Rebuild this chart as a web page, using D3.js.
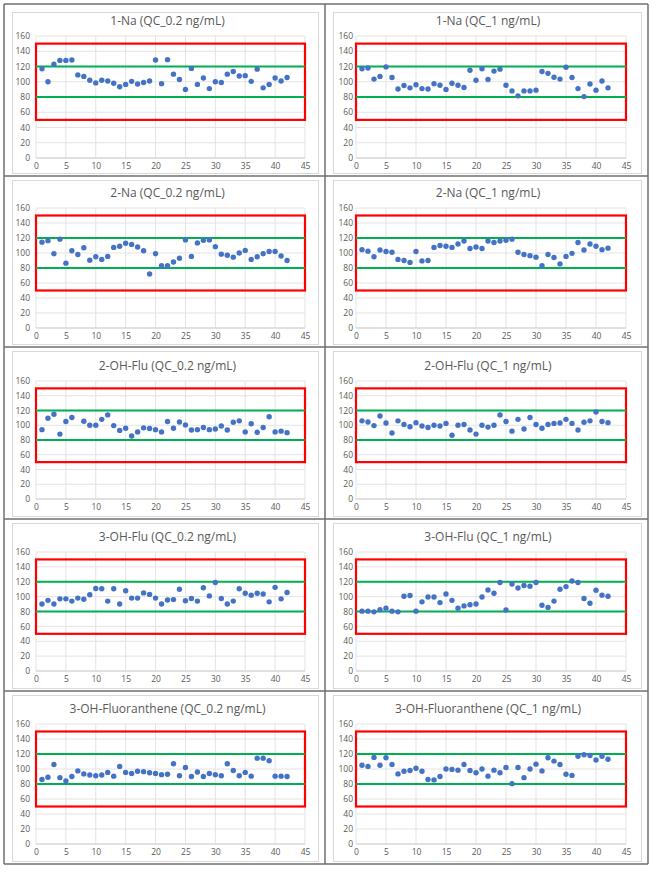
<!DOCTYPE html>
<html>
<head>
<meta charset="utf-8">
<script src="https://cdn.jsdelivr.net/npm/d3@7"></script>
<style>
body { margin: 0; background: #fff; }
text { font-family: "Open Sans", "Liberation Sans", sans-serif; }
</style>
</head>
<body>
<svg id="chart" width="652" height="872"></svg>
<script>
var titles = [
	'1-Na (QC_0.2 ng/mL)', '1-Na (QC_1 ng/mL)',
	'2-Na (QC_0.2 ng/mL)', '2-Na (QC_1 ng/mL)',
	'2-OH-Flu (QC_0.2 ng/mL)', '2-OH-Flu (QC_1 ng/mL)',
	'3-OH-Flu (QC_0.2 ng/mL)', '3-OH-Flu (QC_1 ng/mL)',
	'3-OH-Fluoranthene (QC_0.2 ng/mL)', '3-OH-Fluoranthene (QC_1 ng/mL)'
];

// recovery (%) for runs 1..42, null = no point
var na1_02 = [117, 100, 123, 128, 128, 128.5, 109, 107, 102, 98.5, 102, 101, 98, 93.5, 96.5, 100.5, 97, 99, 101, 128.5,
	97.5, 129, 110, 103, 90, 117.5, 96.5, 105, 91, 100, 99, 110, 113.5, 107.5, 108, 100.5, 116.5, 92, 96.5, 105, 101, 105.5];
var na1_1 = [117, 118, 103.5, 107, 119.5, 105.5, 90.5, 95, 92, 96, 91, 90.5, 97.5, 95.5, 90, 98, 95.5, 92.5, 115, 102,
	117, 103, 114, 116.5, 95.5, 88, 81.5, 88, 88, 89, 113.5, 111, 106, 103.5, 119, 105.5, 91, 80.5, 97, 89, 101, 92];
var na2_02 = [114.5, 116.5, 99, 118.5, 86.5, 103, 98, 107, 90.5, 95, 91.5, 95.5, 107.5, 109, 113, 111.5, 108, 103, 72, 99,
	83, 83, 88, 93, 117.5, 95.5, 113.5, 117, 117.5, 108.5, 98.5, 97, 94.5, 100, 103.5, 91.5, 95, 99, 102, 102, 96, 90];
var na2_1 = [104.5, 102.5, 95, 104, 102, 101, 91.5, 90, 87.5, 102, 89.5, 90, 107.5, 110, 109, 107.5, 112, 116, 106, 108,
	106, 116, 114, 116, 117, 118.5, 101, 98, 96.5, 94.5, 83, 98, 94, 85.5, 95.5, 99.5, 114, 104, 112, 109, 104.5, 106.5];
var oh2_02 = [94, 109.5, 115, 88, 105, 110.5, null, 105.5, 100, 100, 108, 114, 99.5, 93, 96, 85.5, 91, 96.5, 95.5, 94,
	91, 105, 96, 104.5, 100.5, 93.5, 94, 97, 94, 95, 99, 93.5, 104, 106, 91, 102, 90.5, 97, 111.5, 91, 92, 90];
var oh2_1 = [106, 104.5, 99.5, 112.5, 103, 89.5, 106, 101, 98, 103.5, 99, 97, 100, 99, 102.5, 86.5, 100, 101, 93.5, 88,
	100, 97.5, 100, 114, 105, 92, 108, 95, 110.5, 101, 96, 101, 102.5, 103, 108, 102.5, 93.5, 104, 106, 118, 105, 103.5];
var oh3_02 = [90, 95, 90, 97, 97, 94, 98, 96.5, 102.5, 111, 110.5, 94, 110.5, 90, 108, 98, 98, 105, 103, 98,
	90, 95.5, 96, 110, 94.5, 97.5, 94, 112, 101, 119, 97.5, 90, 94, 110.5, 104.5, 102, 104.5, 103.5, 93, 112.5, 97, 105.5];
var oh3_1 = [80.5, 80.5, 79.5, 82.5, 84.5, 80.5, 79.5, 100.5, 101.5, 80.5, 93, 99.5, 99.5, 92, 103.5, 95, 84.5, 87.5, 89, 90,
	99.5, 109, 104.5, 119, 82, 117, 111.5, 115, 114, 119, 88.5, 85.5, 94, 110, 113.5, 121, 119, 97.5, 91, 108.5, 102, 100.5];
var fla3_02 = [86, 89, 106, 88.5, 84, 90, 97.5, 93.5, 92, 91, 92, 95.5, 90.5, 103.5, 95.5, 94, 97, 96.5, 95, 94,
	92.5, 93, 107, 91, 102, 90, 96, 90, 94, 92.5, 91, 107, 98, 91, 95.5, 90.5, 114.5, 114.5, 111, 90.5, 90.5, 90];
var fla3_1 = [105, 103.5, 115.5, 105, 115, 106, 93.5, 97, 98, 101, 97, 86, 85.5, 90, 100, 99.5, 98.5, 106, 98, 95,
	100, 90.5, 98.5, 95, 102, 80.5, 102, 88.5, 100, 106.5, 97.5, 115, 110.5, 106, 93, 91.5, 117, 119, 118, 112, 117, 113];

var series = [na1_02, na1_1, na2_02, na2_1, oh2_02, oh2_1, oh3_02, oh3_1, fla3_02, fla3_1];

var xTicks = [0, 5, 10, 15, 20, 25, 30, 35, 40, 45];
var yTicks = [0, 20, 40, 60, 80, 100, 120, 140, 160];
var acceptLimits = [80, 120];
var rangeLimits = [50, 150];

// layout
var colPlot = [[36, 305], [356, 626]];
var colLabelPad = [6, 3];
var rowPlot = [[36, 158], [208, 328], [381, 499], [552, 671], [724, 844]];
var rowLines = [4, 176, 347, 519, 691, 864];
var colLines = [4, 325, 648];

var svg = d3.select('#chart');

// chart boxes inside each cell
for (var r = 0; r < 5; r++) {
	for (var c = 0; c < 2; c++) {
		svg.append('rect')
			.attr('x', colLines[c] + 8.5)
			.attr('y', rowLines[r] + (r == 0 ? 8.5 : 4.5))
			.attr('width', colLines[c + 1] - colLines[c] - 15)
			.attr('height', rowLines[r + 1] - rowLines[r] - (r == 0 ? 11 : 7))
			.attr('fill', '#fff')
			.attr('stroke', '#d9d9d9')
			.attr('stroke-width', 1);
	}
}

// cell grid
rowLines.forEach(function(y) {
	svg.append('line')
		.attr('x1', colLines[0]).attr('x2', colLines[2])
		.attr('y1', y).attr('y2', y)
		.attr('stroke', '#6f6f6f').attr('stroke-width', 1.5);
});
colLines.forEach(function(x) {
	svg.append('line')
		.attr('x1', x).attr('x2', x)
		.attr('y1', rowLines[0]).attr('y2', rowLines[5])
		.attr('stroke', '#6f6f6f').attr('stroke-width', 1.5);
});

function drawPanel(i) {
	var r = Math.floor(i / 2), c = i % 2;
	var data = series[i];

	var xScale = d3.scaleLinear().domain([0, 45]).range(colPlot[c]);
	var yScale = d3.scaleLinear().domain([0, 160]).range([rowPlot[r][1], rowPlot[r][0]]);

	var g = svg.append('g');

	// gridlines
	g.selectAll('.hgrid').data(yTicks).enter()
		.append('line')
			.attr('x1', xScale(0)).attr('x2', xScale(45))
			.attr('y1', function(d) { return yScale(d); })
			.attr('y2', function(d) { return yScale(d); })
			.attr('stroke', '#e3e3e3').attr('stroke-width', 1);

	g.selectAll('.vgrid').data(xTicks).enter()
		.append('line')
			.attr('x1', function(d) { return xScale(d); })
			.attr('x2', function(d) { return xScale(d); })
			.attr('y1', yScale(0)).attr('y2', yScale(160))
			.attr('stroke', '#e3e3e3').attr('stroke-width', 1);

	// axis labels
	var yAxis = d3.axisLeft(yScale).tickValues(yTicks).tickSize(0).tickPadding(colLabelPad[c]);
	var xAxis = d3.axisBottom(xScale).tickValues(xTicks).tickSize(0).tickPadding(5);

	var ya = g.append('g').attr('transform', 'translate(' + xScale(0) + ',0)').call(yAxis);
	var xa = g.append('g').attr('transform', 'translate(0,' + yScale(0) + ')').call(xAxis);
	[ya, xa].forEach(function(a) {
		a.select('.domain').remove();
		a.selectAll('text')
			.attr('fill', '#595959')
			.style('font-size', '8.5px')
			.style('font-family', '"Open Sans", sans-serif');
	});
	g.append('line')
		.attr('x1', xScale(0)).attr('x2', xScale(45))
		.attr('y1', yScale(0)).attr('y2', yScale(0))
		.attr('stroke', '#d0d0d0');

	// limit box and acceptance lines
	g.append('rect')
		.attr('x', xScale(0))
		.attr('y', yScale(rangeLimits[1]))
		.attr('width', xScale(45) - xScale(0))
		.attr('height', yScale(rangeLimits[0]) - yScale(rangeLimits[1]))
		.attr('fill', 'none')
		.attr('stroke', '#ff0000')
		.attr('stroke-width', 2.2);

	g.selectAll('.limit').data(acceptLimits).enter()
		.append('line')
			.attr('x1', xScale(0)).attr('x2', xScale(45))
			.attr('y1', function(d) { return yScale(d); })
			.attr('y2', function(d) { return yScale(d); })
			.attr('stroke', '#00b050')
			.attr('stroke-width', 2);

	// points
	g.selectAll('circle').data(data.map(function(v, k) { return [k + 1, v]; })
			.filter(function(d) { return d[1] != null; })).enter()
		.append('circle')
			.attr('cx', function(d) { return xScale(d[0]); })
			.attr('cy', function(d) { return yScale(d[1]); })
			.attr('r', 2.7)
			.attr('fill', '#4472c4');

	// title
	g.append('text')
		.attr('x', (colPlot[c][0] + colPlot[c][1]) / 2 - 3)
		.attr('y', rowPlot[r][0] - 11)
		.attr('text-anchor', 'middle')
		.attr('fill', '#595959')
		.style('font-size', '12px')
		.text(titles[i]);
}

for (var i = 0; i < series.length; i++) {
	drawPanel(i);
}
</script>
</body>
</html>
